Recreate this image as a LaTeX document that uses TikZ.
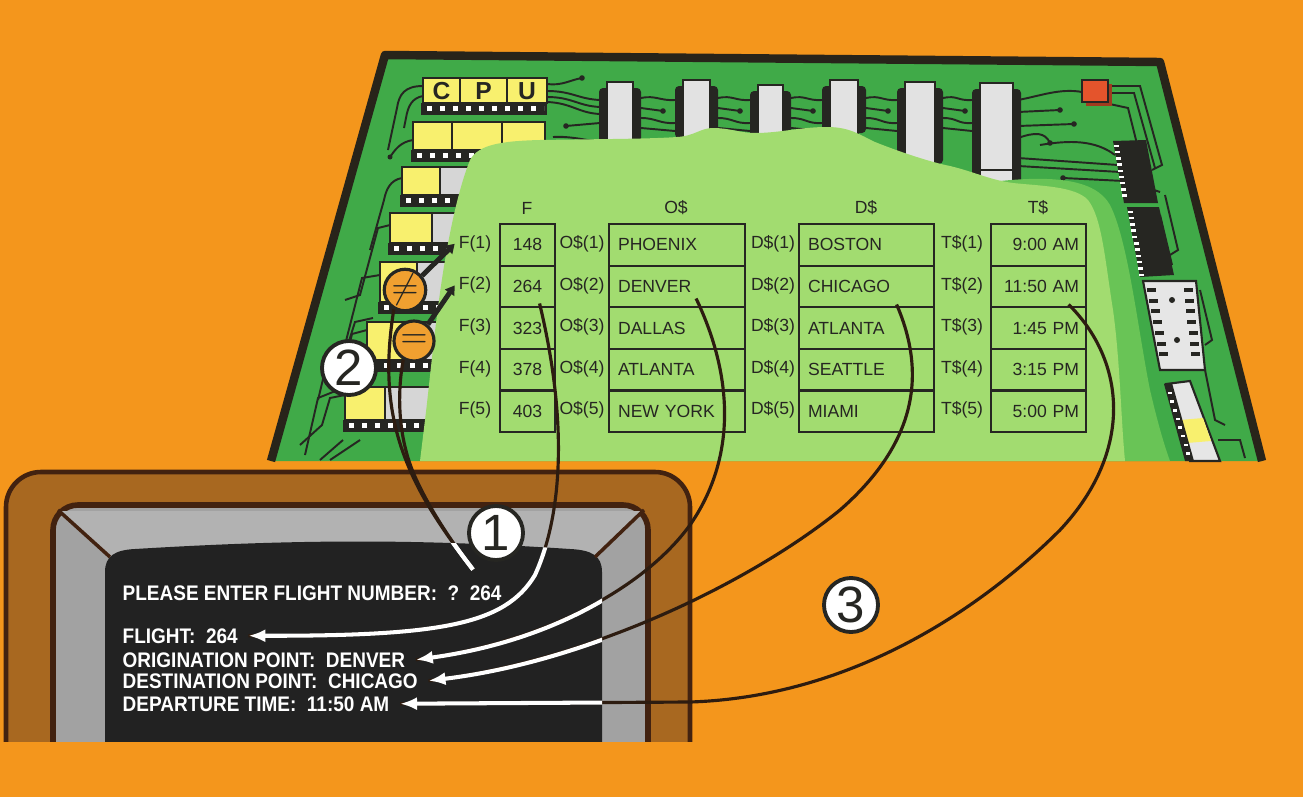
\documentclass[tikz,border=0pt]{standalone}
\usepackage{fontspec}
\setmainfont{Liberation Sans}
\newfontfamily\scrfont[FakeStretch=0.9]{Liberation Sans}
\usetikzlibrary{arrows.meta,calc}

\definecolor{bgorange}{RGB}{244,150,28}
\definecolor{boardgreen}{RGB}{64,170,72}
\definecolor{midgreen}{RGB}{105,196,86}
\definecolor{lightgreen}{RGB}{162,220,112}
\definecolor{boardedge}{RGB}{40,36,26}
\definecolor{chipyellow}{RGB}{248,240,110}
\definecolor{chipgray}{RGB}{214,214,214}
\definecolor{ink}{RGB}{38,38,34}
\definecolor{monbrown}{RGB}{168,104,32}
\definecolor{monedge}{RGB}{66,34,16}
\definecolor{bezel}{RGB}{162,162,162}
\definecolor{bezeltop}{RGB}{178,178,178}
\definecolor{screenblack}{RGB}{34,34,34}
\definecolor{wire}{RGB}{45,28,16}
\definecolor{chipred}{RGB}{228,84,44}
\definecolor{cmporange}{RGB}{240,160,48}

\newcommand{\tabfont}{\fontsize{5}{6}\selectfont}

% chip on the left column: x start, yellow end, gray end, top, bottom
\newcommand{\leftchip}[5]{%
  \fill[ink] (#1-2,#5) rectangle (#3,#5+12);
  \begin{scope}
    \clip (#1,#5) rectangle (#3-3,#5+12);
    \foreach \px in {0,13,...,210}
      \fill[white] (#1+4+\px,#5+3) rectangle ++(5,5);
  \end{scope}
  \filldraw[fill=chipyellow,draw=ink,line width=0.5pt] (#1,#4) rectangle (#2,#5);
  \filldraw[fill=chipgray,draw=ink,line width=0.5pt] (#2,#4) rectangle (#3,#5);
}
% upright memory chip along the top: left, right, top, bottom
\newcommand{\topchip}[4]{%
  \fill[ink,rounded corners=0.04cm] (#1-8,#3+6) rectangle (#2+8,#4-2);
  \filldraw[fill=chipgray!70!white,draw=ink,line width=0.6pt] (#1,#3) rectangle (#2,#4);
}

\begin{document}
\begin{tikzpicture}[x=0.01cm,y=-0.01cm,
  trace/.style={draw=ink,line width=0.55pt},
  dot/.style={fill=ink},
  cell/.style={draw=ink,line width=0.6pt,inner sep=0pt,minimum height=0.416cm,
    anchor=north west,font=\tabfont,text=ink},
  fcell/.style={cell,minimum width=0.55cm},
  ocell/.style={cell,minimum width=1.36cm,text width=1.18cm,align=left},
  dcell/.style={cell,minimum width=1.35cm,text width=1.17cm,align=left},
  tcell/.style={cell,minimum width=0.95cm,text width=0.81cm,align=right},
  lbl/.style={font=\tabfont,text=ink,inner sep=1pt},
  cpuletter/.style={font=\fontsize{7}{7}\selectfont\bfseries,text=ink,inner sep=0pt},
  cmpcircle/.style={circle,draw=ink,line width=0.9pt,fill=cmporange,minimum size=0.4cm,
    inner sep=0pt,font=\fontsize{10}{10}\selectfont,text=ink},
  cmparrow/.style={draw=ink,line width=1.4pt,-{Triangle[length=0.09cm,width=0.11cm]}},
  numcircle/.style={circle,draw=ink,line width=1.1pt,fill=white,minimum size=0.54cm,
    inner sep=0pt,font=\fontsize{14.5}{14.5}\selectfont,text=ink},
  scr/.style={font=\scrfont\bfseries\fontsize{6}{7}\selectfont,text=white,inner sep=0pt,anchor=base west},
  wire/.style={draw=wire,line width=0.9pt},
  scrwire/.style={draw=white,line width=1.15pt},
  tip/.style={-{Latex[length=0.17cm,width=0.13cm]}}
]
\useasboundingbox (0,0) rectangle (1303,797);
\fill[bgorange] (0,0) rectangle (1303,797);

% ---------- circuit board ----------
\fill[boardgreen] (385,55) -- (1160,62) -- (1262,461) -- (271,461) -- cycle;

% traces
\draw[trace] (423,86) .. controls (405,86) and (399,94) .. (397,108) -- (388,150);
\draw[trace] (423,96) .. controls (412,98) and (408,106) .. (406,118) -- (404,128);
\draw[trace] (413,140) .. controls (400,142) and (395,150) .. (390,157);
\fill[dot] (390,157) circle[radius=0.025cm];
\draw[trace] (402,178) .. controls (390,180) and (386,190) .. (384,200) -- (370,250);
\draw[trace] (390,225) -- (378,228) -- (360,295) -- (345,300);
\draw[trace] (380,275) -- (362,278) -- (345,345) -- (330,350) -- (318,400);
\draw[trace] (367,330) -- (352,334) -- (338,390) -- (318,398) -- (305,455);
\draw[trace] (345,395) -- (330,398) -- (322,425) -- (300,445);
\draw[trace] (343,440) -- (320,460);
\draw[trace] (360,440) -- (330,460);
\draw[trace] (373,318) -- (355,322) -- (343,360);
\draw[trace] (547,84) .. controls (562,86) and (570,80) .. (582,78);
\fill[dot] (582,78) circle[radius=0.028cm];
\draw[trace] (547,91) .. controls (572,91) and (578,99) .. (600,100);
\draw[trace] (547,97) .. controls (572,97) and (578,106) .. (600,107);
\draw[trace] (547,102) .. controls (572,103) and (578,113) .. (600,114);
\draw[trace] (566,126) -- (600,123);
\fill[dot] (566,126) circle[radius=0.028cm];
\draw[trace] (553,137) .. controls (570,136) and (585,140) .. (600,142);
\foreach \a/\b in {641/675,718/750,791/822,866/897,943/972}{
  \draw[trace] (\a,98) .. controls (\a+15,95) and (\b-15,101) .. (\b,100);
  \draw[trace] (\a,108) -- (\a+22,111);
  \fill[dot] (\a+22,111) circle[radius=0.028cm];
  \draw[trace] (\a,118) .. controls (\a+15,118) and (\b-15,124) .. (\b,123);
  \draw[trace] (\a,128) -- (\b,131);
}
\draw[trace] (1018,100) .. controls (1040,96) and (1060,88) .. (1082,92);
\draw[trace] (1018,112) -- (1060,110);
\fill[dot] (1060,110) circle[radius=0.028cm];
\draw[trace] (1018,126) -- (1074,124);
\fill[dot] (1074,124) circle[radius=0.028cm];
\draw[trace] (1018,138) .. controls (1035,132) and (1045,132) .. (1050,143);
\fill[dot] (1050,143) circle[radius=0.028cm];
\draw[trace] (1040,145) .. controls (1070,140) and (1095,140) .. (1115,155);
\draw[trace] (1018,158) -- (1118,165);
\draw[trace] (1018,166) -- (1120,172);
\draw[trace] (1063,178) -- (1124,181);
\fill[dot] (1063,178) circle[radius=0.028cm];
\draw[trace] (1110,86) -- (1140,86) -- (1162,165) -- (1152,170);
\draw[trace] (1110,93) -- (1134,93) -- (1155,168);
\draw[trace] (1105,103) -- (1128,108) -- (1148,188) -- (1160,192);
\draw[trace] (1165,195) -- (1178,250) -- (1170,255);
\draw[trace] (1160,215) -- (1172,265);
\draw[trace] (1200,290) -- (1212,340) -- (1205,345);
\draw[trace] (1205,370) -- (1215,420) -- (1225,425);
\draw[trace] (1218,440) -- (1240,440) -- (1245,458);

% top row of memory chips
\topchip{607}{633}{82}{145}
\topchip{683}{710}{80}{140}
\topchip{758}{783}{85}{140}
\topchip{830}{858}{80}{135}
\topchip{905}{935}{82}{166}
\topchip{980}{1013}{83}{185}
\draw[ink,line width=0.5pt] (980,170) -- (1013,170);

% left column of chips
\leftchip{423}{547}{547}{78}{103}
\draw[ink,line width=0.6pt] (460,78) -- (460,103) (507,78) -- (507,103);
\node[cpuletter] (cpuC) at (441.5,91) {C};
\node[cpuletter] (cpuP) at (483.5,91) {P};
\node[cpuletter] (cpuU) at (527,91) {U};
\leftchip{413}{545}{545}{122}{150}
\draw[ink,line width=0.6pt] (452,122) -- (452,150) (502,122) -- (502,150);
\leftchip{402}{440}{480}{167}{195}
\leftchip{390}{432}{470}{213}{243}
\leftchip{380}{417}{460}{262}{302}
\leftchip{367}{405}{450}{322}{360}
\leftchip{345}{385}{440}{387}{420}

% paler band and the light field that carries the arrays
\fill[midgreen] (1000,300) -- (1000,181) .. controls (1050,176) and (1095,178) .. (1110,205)
  .. controls (1128,240) and (1138,330) .. (1150,390) .. controls (1157,420) and (1164,445) .. (1170,461)
  -- (1100,461) -- cycle;
\fill[lightgreen] (420,461) -- (425,420) .. controls (430,380) and (435,320) .. (445,260)
  .. controls (452,220) and (460,185) .. (470,160) .. controls (478,145) and (500,141) .. (540,140)
  .. controls (600,139) and (650,139) .. (677,137) .. controls (695,136) and (700,128) .. (713,128)
  .. controls (730,128) and (740,133) .. (755,133) .. controls (780,133) and (800,127) .. (827,127)
  .. controls (850,127) and (860,135) .. (875,142) .. controls (900,152) and (930,162) .. (950,166)
  .. controls (975,172) and (990,180) .. (1013,183) .. controls (1040,186) and (1075,186) .. (1088,200)
  .. controls (1102,218) and (1105,260) .. (1113,310) .. controls (1120,360) and (1121,420) .. (1125,461)
  -- cycle;

% chips along the right edge
\fill[ink] (1113,141) -- (1146,140) -- (1158,203) -- (1124,203) -- cycle;
\foreach \t in {0.06,0.16,...,0.96}
  \fill[white] ($(1113,141)!\t!(1124,203)$) rectangle ++(5,2.5);
\fill[ink] (1127,207) -- (1159,207) -- (1174,275) -- (1140,277) -- cycle;
\foreach \t in {0.05,0.14,...,0.96}
  \fill[white] ($(1127,207)!\t!(1140,277)$) rectangle ++(5,2.5);
\filldraw[fill=chipgray!60!white,draw=ink,line width=0.6pt] (1143,281) -- (1196,281) -- (1205,370) -- (1160,370) -- cycle;
\foreach \t in {0.08,0.2,...,0.9}{
  \fill[ink] ($(1146,281)!\t!(1162,370)$) rectangle ++(9,4);
  \fill[ink] ($(1183,281)!\t!(1193,370)$) rectangle ++(9,4);
}
\fill[ink] (1172,300) circle[radius=0.03cm] (1177,340) circle[radius=0.03cm];
\filldraw[fill=chipgray!60!white,draw=ink,line width=0.6pt] (1166,384) -- (1190,381) -- (1220,461) -- (1190,461) -- cycle;
\fill[chipyellow] (1180,420) -- (1203,418) -- (1211,441) -- (1187,443) -- cycle;
\fill[ink] (1164,384) -- (1172,383) -- (1194,461) -- (1185,461) -- cycle;
\foreach \t in {0.08,0.2,...,0.95}
  \fill[white] ($(1166,386)!\t!(1188,458)$) rectangle ++(4,2.5);

% little red component
\fill[chipred!70!black] (1086,84) rectangle (1112,106);
\filldraw[fill=chipred,draw=ink,line width=0.4pt] (1082,80) rectangle (1108,102);

% board rim
\draw[boardedge,line width=2.4pt,line join=round] (271,461) -- (385,55) -- (1160,62) -- (1262,461);

% ---------- the arrays ----------
\node[lbl] (hf) at (527,208) {F};
\node[lbl] (ho) at (676,208) {O\$};
\node[lbl] (hd) at (866,208) {D\$};
\node[lbl] (ht) at (1038,208) {T\$};
\foreach \i/\fv/\ov/\dv/\tv in {1/148/PHOENIX/BOSTON/9:00 AM,2/264/DENVER/CHICAGO/11:50 AM,
  3/323/DALLAS/ATLANTA/1:45 PM,4/378/ATLANTA/SEATTLE/3:15 PM,5/403/NEW YORK/MIAMI/5:00 PM}{
  \pgfmathsetmacro{\yy}{223+(\i-1)*41.6}
  \pgfmathsetmacro{\yc}{\yy+20.8}
  \node[fcell] (f\i) at (499,\yy) {\fv};
  \node[ocell] (o\i) at (608,\yy) {\ov};
  \node[dcell] (d\i) at (798,\yy) {\dv};
  \node[tcell] (t\i) at (990,\yy) {\tv};
  \node[lbl] (fl\i) at (475,\yc) {F(\i)};
  \node[lbl] (ol\i) at (582,\yc) {O\$(\i)};
  \node[lbl] (dl\i) at (773,\yc) {D\$(\i)};
  \node[lbl] (tl\i) at (962,\yc) {T\$(\i)};
}

% comparators
\node[cmpcircle] (neq) at (405,290) {$\neq$};
\node[cmpcircle] (eq) at (414,341) {$=$};
\draw[cmparrow] (neq.40) -- (fl1.west);
\draw[cmparrow] (eq.50) -- (fl2.west);

% ---------- terminal ----------
\newcommand{\screenshape}{(105,800) -- (105,572) .. controls (105,556) and (115,550) .. (135,549)
  .. controls (300,539) and (420,539) .. (570,549) .. controls (592,550) and (602,556) .. (602,572)
  -- (602,800) -- cycle}
\begin{scope}
  \clip (0,0) rectangle (1303,741);
  \filldraw[fill=monbrown,draw=monedge,line width=1.3pt,rounded corners=0.35cm] (6,472) rectangle (690,820);
  \filldraw[fill=bezel,draw=monedge,line width=1.6pt,rounded corners=0.25cm] (53,505) rectangle (648,820);
  \fill[bezeltop] (60,511) -- (642,511) -- (598,556) -- (108,556) -- cycle;
  \fill[screenblack] \screenshape;
  \draw[monedge,line width=1pt] (58,510) -- (110,557) (644,510) -- (595,557);
\end{scope}

\node[scr] (please) at (122,600) {PLEASE ENTER FLIGHT NUMBER:\ \ ?\ \ 264};
\node[scr] (flight) at (122,643) {FLIGHT:\ \ 264};
\node[scr] (origin) at (122,667) {ORIGINATION POINT:\ \ DENVER};
\node[scr] (dest) at (122,688) {DESTINATION POINT:\ \ CHICAGO};
\node[scr] (depart) at (122,711) {DEPARTURE TIME:\ \ 11:50 AM};

% ---------- data paths ----------
\coordinate (wF) at ($(f2.center)+(12,17)$);
\coordinate (wO) at ($(o2.center)+(19,12)$);
\coordinate (wD) at ($(d2.center)+(30,18)$);
\coordinate (wT) at ($(t2.center)+(30,18)$);
\coordinate (hit) at ($(please.north west)+(351,-15)$);
\coordinate (tipF) at ([xshift=0.1cm]flight.east);
\coordinate (tipO) at ([xshift=0.1cm]origin.east);
\coordinate (tipD) at ([xshift=0.1cm]dest.east);
\coordinate (tipT) at ([xshift=0.1cm]depart.east);

\newcommand{\pathN}{(neq.240) .. controls (384,370) and (388,420) .. (410,470) .. controls (425,505) and (450,540) .. (hit)}
\newcommand{\pathE}{(eq.240) .. controls (396,400) and (400,440) .. (413,472) .. controls (427,505) and (450,540) .. (hit)}
\newcommand{\pathF}{(wF) .. controls (570,430) and (560,520) .. (535,575) .. controls (505,625) and (440,636) .. (tipF)}
\newcommand{\pathO}{(wO) .. controls (735,380) and (735,460) .. (690,525) .. controls (650,580) and (560,640) .. (tipO)}
\newcommand{\pathD}{(wD) .. controls (925,370) and (920,440) .. (840,510) .. controls (760,575) and (600,660) .. (tipD)}
\newcommand{\pathT}{(wT) .. controls (1125,360) and (1135,450) .. (1060,530) .. controls (980,610) and (850,697) .. (690,702) -- (tipT)}

\draw[wire] \pathN;
\draw[wire] \pathE;
\draw[wire] \pathF;
\draw[wire] \pathO;
\draw[wire] \pathD;
\draw[wire] \pathT;
\begin{scope}
  \clip \screenshape;
  \draw[scrwire] \pathN;
  \draw[scrwire] \pathE;
  \draw[scrwire,tip] \pathF;
  \draw[scrwire,tip] \pathO;
  \draw[scrwire,tip] \pathD;
  \draw[scrwire,tip] \pathT;
\end{scope}

% step numbers
\node[numcircle] (n1) at (496,533) {1};
\node[numcircle] (n2) at (349,368) {2};
\node[numcircle] (n3) at (851,605) {3};
\end{tikzpicture}
\end{document}
